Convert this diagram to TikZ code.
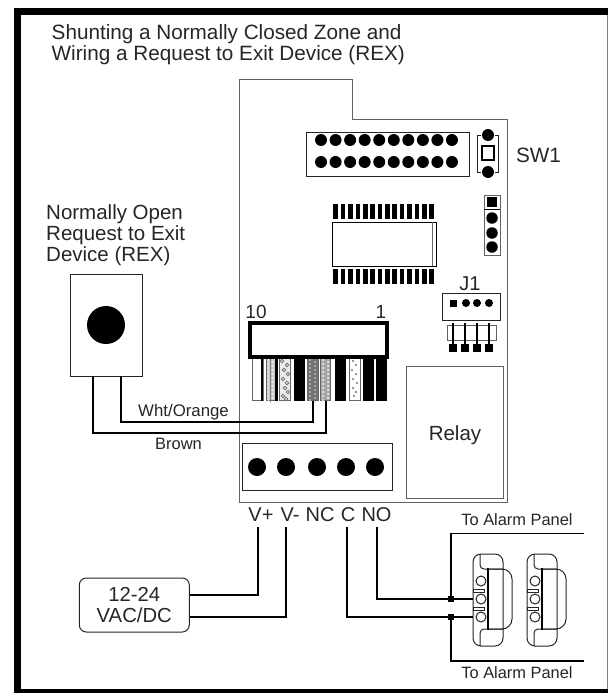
\documentclass[tikz,border=0pt]{standalone}
\usepackage{fontspec}
\setmainfont{Liberation Sans}
\tikzset{
 thin line/.style={draw=black!85,line width=1pt},
 gray line/.style={draw=black!62,line width=1pt},
 wire/.style={draw=black,line width=1.4pt},
 lab/.style={inner sep=0pt,text=black!85},
 pad/.style={circle,fill=black,inner sep=0pt},
 stripe/.style={draw=black!60,line width=.6pt},
}
\newcommand{\alarmswitch}[2]{%
 \begin{scope}[shift={(#1,0)}]
  \draw[thin line,rounded corners=8pt] (473,554) rectangle (503,646);
  \draw[thin line,rounded corners=4pt] (480,554) -- (480,569) -- (503,569);
  \draw[thin line,rounded corners=4pt] (480,646) -- (480,629) -- (503,629);
  \draw[thin line,rounded corners=10pt] (488,569) -- (512,569) -- (512,629) -- (488,629);
  \draw[draw=black,line width=1.3pt] (488,568) -- (488,630);
  \foreach \yy in {581,599,617} \draw[thin line,fill=white] (481,\yy) circle (5);
  \draw[thin line,line width=.8pt,fill=white] (473,589) rectangle (484,592);
  \draw[thin line,line width=.8pt,fill=white] (473,607) rectangle (484,610);
 \end{scope}}
\begin{document}
\begin{tikzpicture}[x=1pt,y=-1pt]
\useasboundingbox (0,0) rectangle (608,693);
\fill[white] (0,0) rectangle (608,693);
% frame
\fill[black] (14,8) rectangle (608,15);
\fill[black] (14,8) rectangle (21,693);
\fill[black] (14,689) rectangle (608,693);
\draw[draw=black!50,line width=1pt] (607.5,15) -- (607.5,689);
% title
\node[lab,anchor=base west,font=\fontsize{20.7}{20}\selectfont] (t1) at (51.5,40) {Shunting a Normally Closed Zone and};
\node[lab,anchor=base west,font=\fontsize{20.7}{20}\selectfont] (t2) at (51.5,61) {Wiring a Request to Exit Device (REX)};
% board
\draw[gray line] (239.5,79) -- (352.5,79) -- (352.5,119) -- (507,119) -- (507,502) -- (239.5,502) -- cycle;
% header
\node[thin line,minimum width=163pt,minimum height=44pt,inner sep=0pt] (hdr) at (387.5,154) {};
\foreach \i in {0,...,9}{
 \node[pad,minimum size=12pt] at ({321+\i*14.55},140) {};
 \node[pad,minimum size=12pt] at ({321+\i*14.55},162) {};
}
% SW1 part
\draw[thin line] (481,135) -- (477,135) -- (477,172) -- (481,172);
\draw[thin line] (495,135) -- (498,135) -- (498,172) -- (495,172);
\node[pad,minimum size=12pt] (sa) at (488,135) {};
\node[pad,minimum size=12pt] (sb) at (488,172) {};
\node[draw=black,line width=1.3pt,minimum width=12pt,minimum height=14pt,inner sep=0pt] (sq) at (488,153) {};
\node[lab,anchor=base,font=\fontsize{20.7}{20}\selectfont] (sw1) at (538.5,162) {SW1};
% 4 pin column
\draw[gray line] (484,195) rectangle (500,255);
\draw[draw=black,line width=1pt] (484,209) -- (500,209);
\fill[black] (486.5,197) rectangle (497,207);
\foreach \yy in {218,233,247} \node[pad,minimum size=11.5pt] at (492,\yy) {};
% IC
\draw[draw=black,line width=.9pt] (332,222) rectangle (436,266);
\draw[draw=black!60,line width=.9pt] (432,222) -- (432,266);
\foreach \i in {0,...,13}{
 \fill[black] ({335.7+\i*7.38-2.3},204) rectangle ({335.7+\i*7.38+2.3},219);
 \fill[black] ({335.7+\i*7.38-2.3},269) rectangle ({335.7+\i*7.38+2.3},284);
}
% J1
\node[lab,anchor=base,font=\fontsize{20}{20}\selectfont] (j1) at (470,290) {J1};
\node[thin line,minimum width=58pt,minimum height=27pt,inner sep=0pt] (j1box) at (471,306.5) {};
\fill[black] (449.5,299.5) rectangle (456.5,306.5);
\foreach \xx in {466,477,489} \node[pad,minimum size=8pt] at (\xx,303) {};
\draw[gray line] (447,325) rectangle (496,340);
\foreach \xx in {453,465,477,489}{
 \draw[draw=black,line width=1.2pt] (\xx,323) -- (\xx,345);
 \fill[black] (\xx-4,344) rectangle (\xx+4,352);
}
% terminal block with stripes
\node[lab,font=\fontsize{19}{19}\selectfont] (n10) at (256,312) {10};
\node[lab,font=\fontsize{19}{19}\selectfont] (n1) at (381,312) {1};
% stripes
\draw[stripe] (252.7,358) rectangle (263,400.7); \fill[black] (260.7,358) rectangle (263.3,400.7);
\draw[stripe,fill=black!20] (266.7,358) rectangle (275,400.7); \fill[black] (275,358) rectangle (278.3,400.7);
\foreach \yy in {360,364,...,400}{\fill[white] (268.5,\yy) circle (.9); \fill[white] (272.5,\yy+2) circle (.9);}
\foreach \yy in {360,364,...,400}{\fill[black!65] (270.5,\yy) circle (.8); \fill[black!65] (270.5,\yy+2) circle (.7);}
\draw[stripe,fill=black!8] (279.3,358) rectangle (290.7,400.7);
\foreach \yy/\xx in {361/282,365/287,370/284,374/288,379/283,383/287,388/285,392/288,396/283,399/286}{\draw[black!55,line width=.8pt,fill=white] (\xx,\yy) circle (1.7);}
\fill[black] (294,358) rectangle (305,400.7);
\draw[stripe,fill=black!55] (307.3,358) rectangle (318.3,400.7);
\foreach \yy in {360,364,...,400}{\fill[black!15] (310,\yy) circle (.8); \fill[black!15] (315,\yy+2) circle (.8);}
\draw[stripe,fill=black!35] (320,358) rectangle (330.7,400.7);
\foreach \yy in {360,364,...,400}{\fill[white] (323,\yy) circle (1); \fill[white] (328,\yy+2) circle (1);}
\fill[black] (335.3,358) rectangle (346,400.7);
\draw[stripe,fill=white] (349,358) rectangle (360,400.7);
\foreach \yy/\xx in {361/353,365/356,370/352,374/356,379/353,383/357,388/353,392/356,396/354}{\fill[black!55] (\xx,\yy) circle (1.2);}
\fill[black] (363.3,358) rectangle (374.3,400.7);
\fill[black] (376,358) rectangle (387,400.7);
\node[draw=black,line width=4pt,minimum width=137pt,minimum height=34pt,inner sep=0pt,fill=white] (tb) at (318.5,340) {};
% relay
\node[gray line,minimum width=97pt,minimum height=132pt,inner sep=0pt] (relay) at (454.5,432) {};
\node[lab,anchor=base,font=\fontsize{20.5}{20}\selectfont] at (455,440) {Relay};
% terminal row
\node[thin line,minimum width=150pt,minimum height=47pt,inner sep=0pt] (row) at (317,466.5) {};
\foreach \xx in {257,286,317,346,375} \node[pad,minimum size=18pt] at (\xx,467) {};
\foreach \n/\xx/\tt in {vp/261/V+,vm/290/V-,nc/320/NC,cc/348/C,no/376.5/NO}
 \node[lab,font=\fontsize{20}{20}\selectfont,anchor=base] (\n) at (\xx,521) {\tt};
% REX
\node[lab,anchor=base west,font=\fontsize{20.5}{20}\selectfont] at (46,219) {Normally Open};
\node[lab,anchor=base west,font=\fontsize{20.5}{20}\selectfont] at (46,240) {Request to Exit};
\node[lab,anchor=base west,font=\fontsize{20.5}{20}\selectfont] at (46,261) {Device (REX)};
\node[thin line,minimum width=72pt,minimum height=102pt,inner sep=0pt] (rex) at (106,325) {};
\node[pad,minimum size=38pt] at (106,325) {};
\coordinate (rexa) at (93,376); \coordinate (rexb) at (121,376);
\coordinate (tb6) at (326,401); \coordinate (tb5) at (313,401);
\draw[wire] (rexa) -- (93,433) -- (326,433) -- (tb6);
\draw[wire] (rexb) -- (121,422) -- (313,422) -- (tb5);
\node[lab,font=\fontsize{16.8}{16}\selectfont] at (183.5,412) {Wht/Orange};
\node[lab,font=\fontsize{16.5}{16}\selectfont] at (178.5,444) {Brown};
% power
\node[thin line,rounded corners=7pt,minimum width=110pt,minimum height=54pt,inner sep=0pt,align=center,text=black!85,font=\fontsize{20.3}{21}\selectfont] (psu) at (134.3,605) {12-24\\VAC/DC};
\coordinate (vpt) at (258,527); \coordinate (vmt) at (286,527);
\coordinate (ct) at (347,527); \coordinate (not) at (377,527);
\draw[wire] (vpt) -- (258,595) -- (189.5,595);
\draw[wire] (vmt) -- (286,617) -- (189.5,617);
% alarm
\node[lab,font=\fontsize{16.4}{16}\selectfont] at (517,520) {To Alarm Panel};
\node[lab,font=\fontsize{16.4}{16}\selectfont] at (517,673) {To Alarm Panel};
\alarmswitch{0}{}
\alarmswitch{54}{}
\coordinate (j1a) at (451,599); \coordinate (j1b) at (451,617);
\draw[wire] (not) -- (377,599) -- (473,599);
\draw[wire] (ct) -- (347,617) -- (473,617);
\draw[wire] (584,533.5) -- (451,533.5) -- (j1a);
\draw[wire] (584,661) -- (451,661) -- (j1b);
\fill[black] (448,596) rectangle (454,602);
\fill[black] (448,614) rectangle (454,620);
\end{tikzpicture}
\end{document}
